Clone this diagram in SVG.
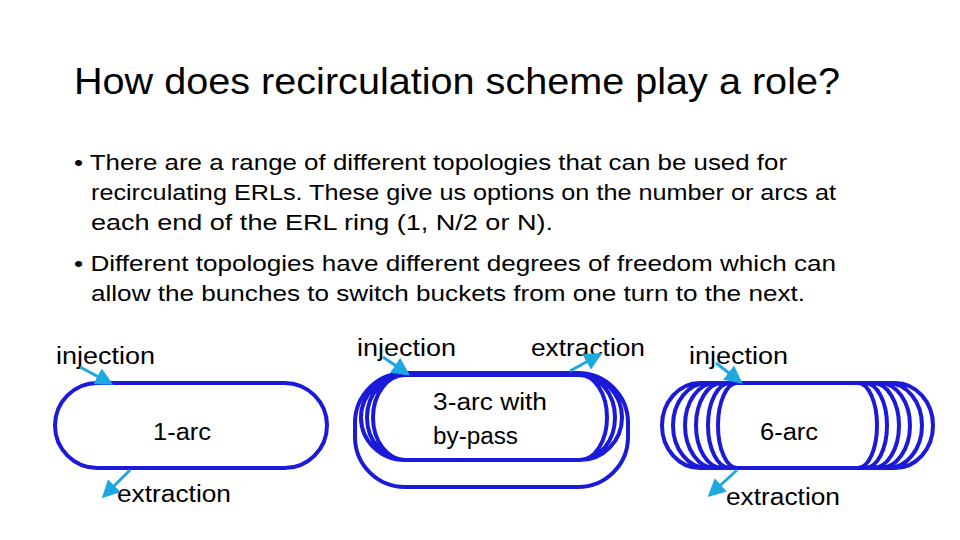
<svg xmlns="http://www.w3.org/2000/svg" width="960" height="540" viewBox="0 0 960 540">
<style>
text{font-family:"Liberation Sans","Noto Sans",sans-serif;fill:#000}
.t{font-size:22px}
.l{font-size:23px}
.r{fill:none;stroke:#1a1ad8;stroke-width:4}
.a{stroke:#1ea8e0;stroke-width:3;fill:none;marker-end:url(#ah)}
</style>
<defs><marker id="ah" markerWidth="6" markerHeight="6" refX="4" refY="3" orient="auto"><path d="M0,0L6,3L0,6z" fill="#1ea8e0"/></marker></defs>
<rect width="960" height="540" fill="#fff"/>
<text x="74" y="94" font-size="36" textLength="766" lengthAdjust="spacingAndGlyphs">How does recirculation scheme play a role?</text>
<g class="t">
<text x="74" y="170" textLength="713" lengthAdjust="spacingAndGlyphs">• There are a range of different topologies that can be used for</text>
<text x="91" y="200" textLength="745" lengthAdjust="spacingAndGlyphs">recirculating ERLs. These give us options on the number or arcs at</text>
<text x="91" y="230" textLength="462" lengthAdjust="spacingAndGlyphs">each end of the ERL ring (1, N/2 or N).</text>
<text x="74" y="271" textLength="762" lengthAdjust="spacingAndGlyphs">• Different topologies have different degrees of freedom which can</text>
<text x="91" y="301" textLength="714" lengthAdjust="spacingAndGlyphs">allow the bunches to switch buckets from one turn to the next.</text>
</g>
<g id="arc1">
<rect class="r" x="55" y="383" width="272" height="85" rx="42.5"/>
<text class="l" x="56" y="364" textLength="99" lengthAdjust="spacingAndGlyphs">injection</text>
<text class="l" x="153" y="440" textLength="58" lengthAdjust="spacingAndGlyphs">1-arc</text>
<text class="l" x="117" y="502" textLength="114" lengthAdjust="spacingAndGlyphs">extraction</text>
</g>
<g id="arc3">
<rect class="r" x="355" y="373" width="273" height="114" rx="50"/>
<path class="r" d="M405,375H580M405,460H580M405,375A32,42.5 0 0 0 405,460M405,375A38,42.5 0 0 0 405,460M405,375A44,42.5 0 0 0 405,460M580,375A27,42.5 0 0 1 580,460M580,375A35,42.5 0 0 1 580,460M580,375A42,42.5 0 0 1 580,460"/>
<text class="l" x="357" y="356" textLength="99" lengthAdjust="spacingAndGlyphs">injection</text>
<text class="l" x="531" y="356" textLength="114" lengthAdjust="spacingAndGlyphs">extraction</text>
<text class="l" x="433" y="410" textLength="114" lengthAdjust="spacingAndGlyphs">3-arc with</text>
<text class="l" x="433" y="444" textLength="85" lengthAdjust="spacingAndGlyphs">by-pass</text>
</g>
<g id="arc6">
<path class="r" d="M700,383H895M700,468H895M700,383A38,42.5 0 0 0 700,468M707,383A34,42.5 0 0 0 707,468M715,383A30,42.5 0 0 0 715,468M722,383A26,42.5 0 0 0 722,468M730,383A22,42.5 0 0 0 730,468M737,383A19,42.5 0 0 0 737,468M895,383A38,42.5 0 0 1 895,468M888,383A34,42.5 0 0 1 888,468M880,383A30,42.5 0 0 1 880,468M873,383A26,42.5 0 0 1 873,468M865,383A22,42.5 0 0 1 865,468M858,383A19,42.5 0 0 1 858,468"/>
<text class="l" x="689" y="364" textLength="99" lengthAdjust="spacingAndGlyphs">injection</text>
<text class="l" x="760" y="440" textLength="58" lengthAdjust="spacingAndGlyphs">6-arc</text>
<text class="l" x="726" y="505" textLength="114" lengthAdjust="spacingAndGlyphs">extraction</text>
</g>
<g id="connectors">
<path class="a" d="M80,367L108,382"/>
<path class="a" d="M130,470L106,494"/>
<path class="a" d="M383,357L405,372"/>
<path class="a" d="M570,371L597,356"/>
<path class="a" d="M716,363L738,380"/>
<path class="a" d="M737,470L712,493"/>
</g>
</svg>
